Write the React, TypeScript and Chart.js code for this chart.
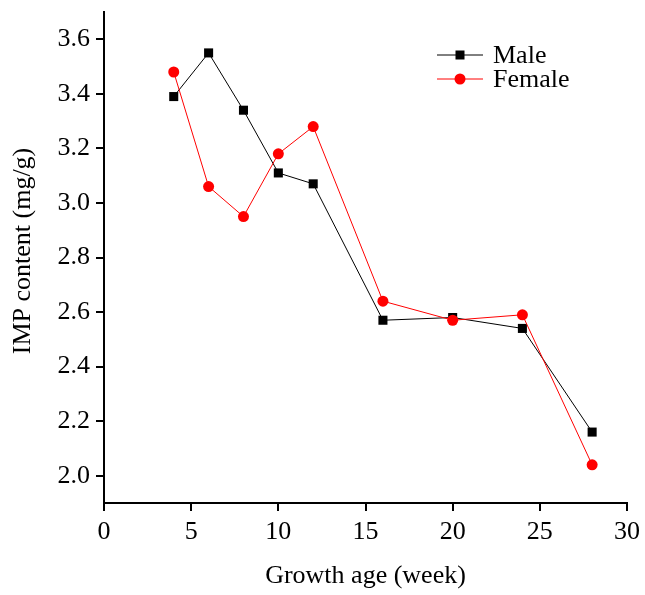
import React, { useEffect, useRef } from "react";
import { Chart, registerables } from "chart.js";

Chart.register(...registerables);

const weeks = [4, 6, 8, 10, 12, 16, 20, 24, 28];
const maleValues = [3.39, 3.55, 3.34, 3.11, 3.07, 2.57, 2.58, 2.54, 2.16];
const femaleValues = [3.48, 3.06, 2.95, 3.18, 3.28, 2.64, 2.57, 2.59, 2.04];
const seriesNames = ["Male", "Female"];
const xTitle = "Growth age (week)";
const yTitle = "IMP content (mg/g)";

const FONT = '"Liberation Serif", "Times New Roman", serif';

const tickPlugin = {
  id: "customTicks",
  afterDraw(chart: any) {
    const ctx = chart.ctx;
    const xs = chart.scales.x;
    const ys = chart.scales.y;
    ctx.save();
    ctx.strokeStyle = "#000";
    ctx.lineWidth = 2;
    for (const t of xs.ticks) {
      const px = Math.round(xs.getPixelForValue(t.value));
      const major = Math.abs(t.value / 5 - Math.round(t.value / 5)) < 1e-6;
      const len = major ? 8 : 4;
      ctx.beginPath();
      ctx.moveTo(px, xs.top);
      ctx.lineTo(px, xs.top + len);
      ctx.stroke();
    }
    for (const t of ys.ticks) {
      const py = Math.round(ys.getPixelForValue(t.value));
      const r = Math.round(t.value * 10);
      const major = r % 2 === 0;
      const len = major ? 8 : 4;
      ctx.beginPath();
      ctx.moveTo(ys.right, py);
      ctx.lineTo(ys.right - len, py);
      ctx.stroke();
    }
    ctx.restore();
  },
};

const legendPlugin = {
  id: "customLegend",
  afterDraw(chart: any) {
    const ctx = chart.ctx;
    const items = chart.data.datasets;
    const x0 = 437;
    const x1 = 483;
    const rows = [55, 79];
    ctx.save();
    items.forEach((ds: any) => {
      const name = ds.label;
      const idx = seriesNames.indexOf(name);
      const y = rows[idx];
      ctx.strokeStyle = ds.borderColor;
      ctx.lineWidth = 1;
      ctx.beginPath();
      ctx.moveTo(x0, y);
      ctx.lineTo(x1, y);
      ctx.stroke();
      ctx.fillStyle = ds.pointBackgroundColor;
      const cx = (x0 + x1) / 2;
      if (ds.pointStyle === "rect") {
        ctx.fillRect(cx - 4.5, y - 4.5, 9, 9);
      } else {
        ctx.beginPath();
        ctx.arc(cx, y, 5.5, 0, Math.PI * 2);
        ctx.fill();
      }
      ctx.fillStyle = "#000";
      ctx.font = `26px ${FONT}`;
      ctx.textBaseline = "middle";
      ctx.textAlign = "left";
      ctx.fillText(name, 493, y + 1);
    });
    ctx.restore();
  },
};

export default function App() {
  const ref = useRef<HTMLCanvasElement | null>(null);

  useEffect(() => {
    if (!ref.current) return;
    const chart = new Chart(ref.current, {
      type: "line",
      data: {
        datasets: [
          {
            label: seriesNames[0],
            data: weeks.map((w, i) => ({ x: w, y: maleValues[i] })),
            borderColor: "#000000",
            backgroundColor: "#000000",
            pointBackgroundColor: "#000000",
            pointBorderWidth: 0,
            pointStyle: "rect",
            pointRadius: 6.4,
            borderWidth: 1,
            order: 2,
          },
          {
            label: seriesNames[1],
            data: weeks.map((w, i) => ({ x: w, y: femaleValues[i] })),
            borderColor: "#ff0000",
            backgroundColor: "#ff0000",
            pointBackgroundColor: "#ff0000",
            pointBorderWidth: 0,
            pointStyle: "circle",
            pointRadius: 5.5,
            borderWidth: 1,
            order: 1,
          },
        ],
      },
      options: {
        responsive: false,
        animation: false,
        layout: { padding: { top: 12, right: 18, left: 0, bottom: 0 } },
        plugins: {
          legend: { display: false },
          tooltip: { enabled: false },
        },
        scales: {
          x: {
            type: "linear",
            min: 0,
            max: 30,
            grid: { display: false, drawTicks: false },
            border: { display: true, color: "#000", width: 2 },
            ticks: {
              stepSize: 2.5,
              autoSkip: false,
              maxRotation: 0,
              padding: 14,
              color: "#000",
              font: { family: FONT, size: 26 },
              callback: (v: any) => (Math.abs(v % 5) < 1e-6 ? String(v) : null),
            },
            title: {
              display: true,
              text: xTitle,
              color: "#000",
              font: { family: FONT, size: 26 },
              padding: { top: 0, bottom: 3 },
            },
            afterFit: (s: any) => {
              s.height = 92;
              s.paddingLeft = 0;
              s.paddingRight = 0;
            },
          },
          y: {
            type: "linear",
            min: 1.9,
            max: 3.7,
            grid: { display: false, drawTicks: false },
            border: { display: true, color: "#000", width: 2 },
            ticks: {
              stepSize: 0.1,
              autoSkip: false,
              padding: 14,
              color: "#000",
              font: { family: FONT, size: 26 },
              callback: (v: any) => {
                const r = Math.round(v * 10);
                return r % 2 === 0 ? (r / 10).toFixed(1) : null;
              },
            },
            title: {
              display: true,
              text: "  " + yTitle,
              color: "#000",
              font: { family: FONT, size: 26 },
              padding: { top: 7.4, bottom: 0 },
            },
            afterFit: (s: any) => {
              s.width = 104;
              s.paddingTop = 0;
              s.paddingBottom = 0;
            },
          },
        },
      },
      plugins: [tickPlugin, legendPlugin],
    });
    return () => chart.destroy();
  }, []);

  return (
    <div style={{ position: "absolute", left: 0, top: 0, width: 645, height: 595, background: "#fff" }}>
      <canvas ref={ref} width={645} height={595} />
    </div>
  );
}
